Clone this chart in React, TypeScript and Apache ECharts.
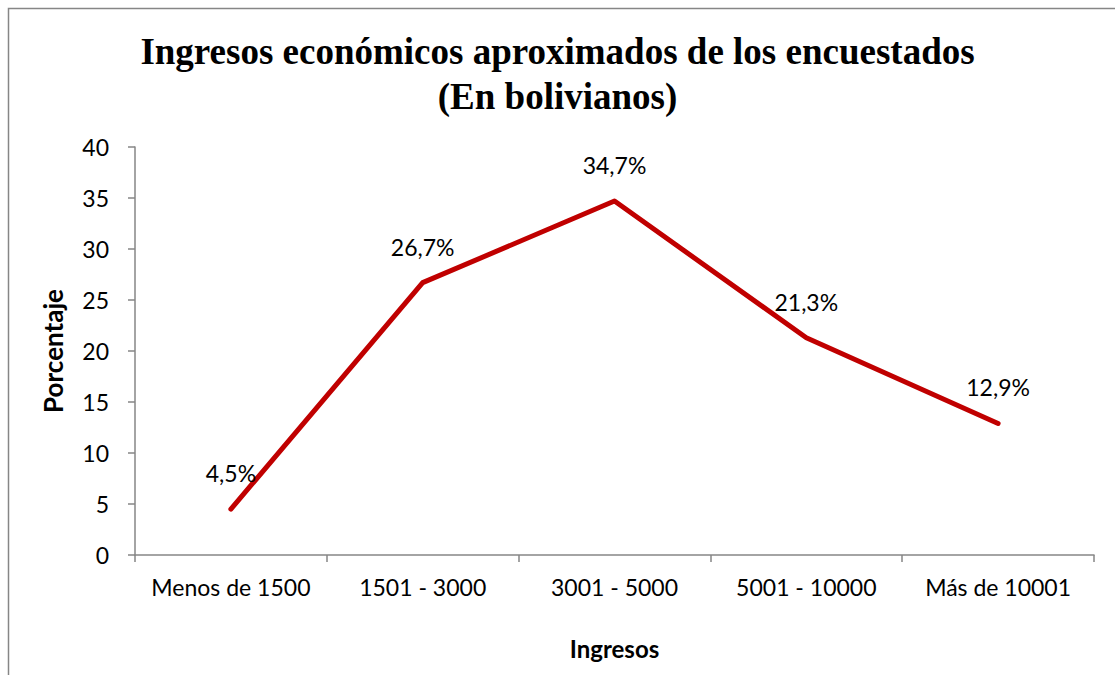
import React, { useEffect, useRef } from "react";
import * as echarts from "echarts";

const categories = ["Menos de 1500", "1501 - 3000", "3001 - 5000", "5001 - 10000", "Más de 10001"];
const percentages = [4.5, 26.7, 34.7, 21.3, 12.9];
const titleLines = ["Ingresos económicos aproximados de los encuestados", "(En bolivianos)"];
const yAxisTitle = "Porcentaje";
const xAxisTitle = "Ingresos";

const FONT = "Lato, 'Open Sans', sans-serif";
const AXIS_GRAY = "#868686";

export default function App() {
  const ref = useRef<HTMLDivElement>(null);
  useEffect(() => {
    document.body.style.margin = "0";
    const chart = echarts.init(ref.current!, null, { renderer: "svg" });
    chart.setOption({
      animation: false,
      backgroundColor: "#ffffff",
      title: {
        text: titleLines.join("\n"),
        left: "center",
        top: 24,
        textStyle: {
          fontFamily: "'Liberation Serif', 'Times New Roman', serif",
          fontWeight: "bold",
          fontSize: 37,
          lineHeight: 45,
          color: "#000",
        },
      },
      graphic: [
        {
          type: "rect",
          shape: { x: 8.5, y: 8.5, width: 1130, height: 700 },
          style: { fill: "none", stroke: AXIS_GRAY, lineWidth: 1.5 },
          silent: true,
        },
      ],
      grid: { left: 135, top: 147, right: 21, bottom: 120, containLabel: false },
      xAxis: {
        type: "category",
        data: categories,
        boundaryGap: true,
        name: xAxisTitle,
        nameLocation: "middle",
        nameGap: 81,
        nameTextStyle: { fontFamily: FONT, fontWeight: "bold", fontSize: 24, color: "#000" },
        axisLine: { show: true, lineStyle: { color: AXIS_GRAY, width: 1.5 } },
        axisTick: { show: true, alignWithLabel: false, length: 7, lineStyle: { color: AXIS_GRAY, width: 1.5 } },
        axisLabel: { fontFamily: FONT, fontSize: 23, color: "#000", margin: 20, interval: 0 },
        splitLine: { show: false },
      },
      yAxis: {
        type: "value",
        min: 0,
        max: 40,
        interval: 5,
        name: yAxisTitle,
        nameLocation: "middle",
        nameGap: 69,
        nameRotate: 90,
        nameTextStyle: { fontFamily: FONT, fontWeight: "bold", fontSize: 26, color: "#000" },
        axisLine: { show: true, lineStyle: { color: AXIS_GRAY, width: 1.5 } },
        axisTick: { show: true, length: 7, lineStyle: { color: AXIS_GRAY, width: 1.5 } },
        axisLabel: { fontFamily: FONT, fontSize: 23, color: "#000", margin: 26 },
        splitLine: { show: false },
      },
      series: [
        {
          type: "line",
          data: percentages,
          symbol: "circle",
          symbolSize: 1,
          showSymbol: true,
          lineStyle: { color: "#C00000", width: 5, cap: "round", join: "round" },
          itemStyle: { color: "#C00000" },
          label: {
            show: true,
            position: "top",
            distance: 24,
            fontFamily: FONT,
            fontSize: 23,
            color: "#000",
            formatter: (p: any) => p.value.toFixed(1).replace(".", ",") + "%",
          },
        },
      ],
    });
    return () => chart.dispose();
  }, []);
  return <div ref={ref} style={{ width: 1115, height: 675 }} />;
}
